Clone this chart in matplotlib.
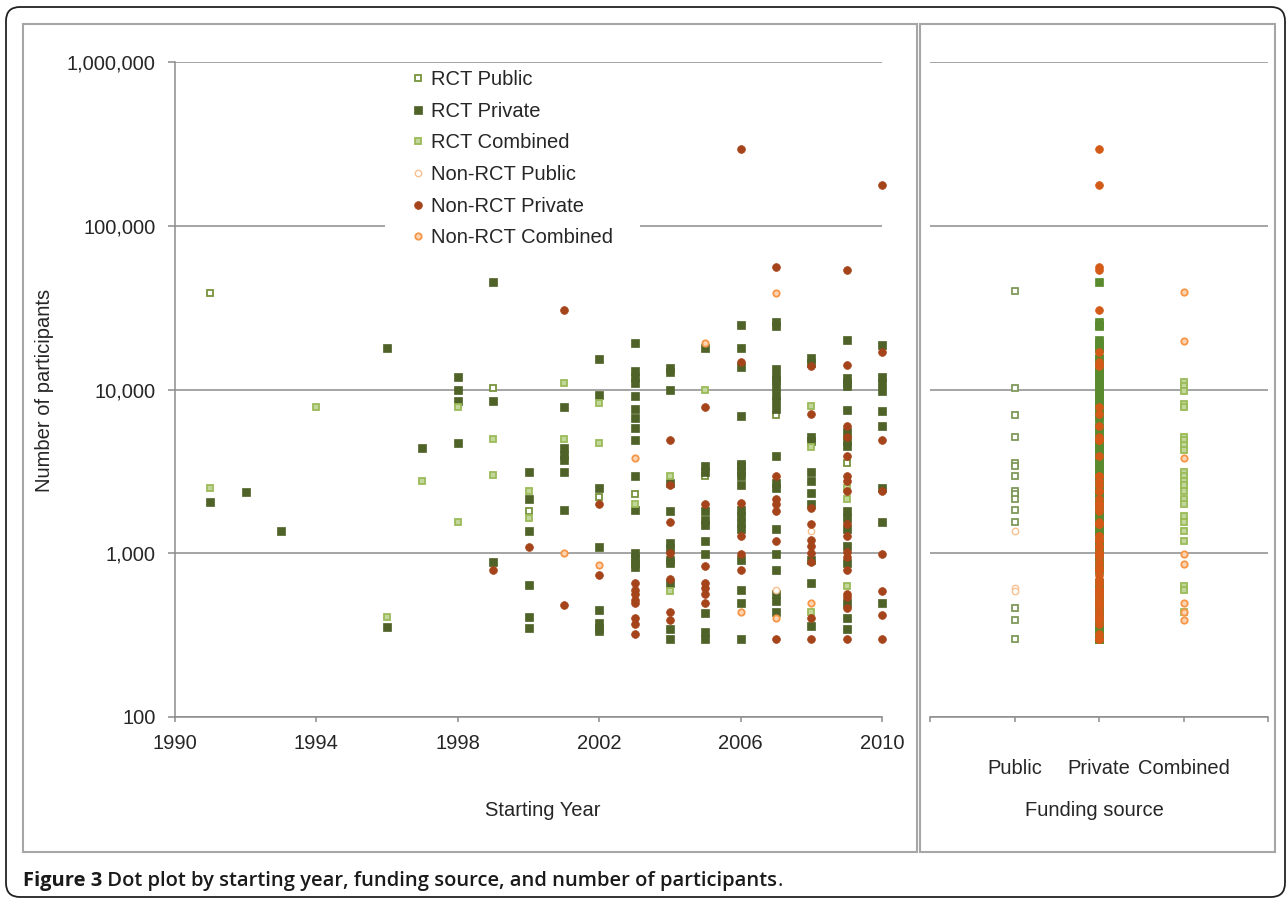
import numpy as np
import matplotlib
matplotlib.use("Agg")
import matplotlib.pyplot as plt
from matplotlib.lines import Line2D
from matplotlib.patches import Rectangle, FancyBboxPatch
from matplotlib.transforms import IdentityTransform
from matplotlib.ticker import NullLocator

# -------------------------------
# DATA
# -------------------------------
# left panel: starting year -> number of participants
rct_public = {1991: [38800], 1999: [10200], 2000: [1800], 2002: [2200], 2003: [2300],
              2005: [2950], 2007: [7000], 2009: [3550]}

rct_private = {
    1991: [2050],
    1992: [2380],
    1993: [1370],
    1996: [17900, 356],
    1997: [4400],
    1998: [11900, 10000, 8500, 4700],
    1999: [45500, 8500, 880],
    2000: [3150, 2150, 1370, 640, 410, 350],
    2001: [7800, 4400, 4000, 3700, 3150, 1850],
    2002: [15400, 9200, 2500, 1090, 450, 375, 350, 335],
    2003: [19200, 12900, 12000, 11000, 9100, 7550, 6700, 5800, 4950, 2950, 1830,
           1000, 930, 870, 820],
    2004: [13500, 12800, 10000, 2700, 1820, 1150, 1070, 910, 870, 660, 345, 300],
    2005: [18000, 3400, 3150, 1800, 1600, 1480, 1190, 990, 430, 330, 300],
    2006: [24600, 17800, 13800, 6900, 3520, 3400, 3150, 2950, 2600, 1850, 1680, 1540,
           1400, 910, 600, 500, 300],
    2007: [26000, 24300, 13400, 12000, 11500, 10400, 9300, 8500, 7600, 3900, 2700,
           2500, 1400, 990, 790, 560, 510, 440],
    2008: [15600, 14500, 5150, 4850, 3150, 2750, 2320, 2000, 910, 660, 360],
    2009: [20100, 11700, 11000, 10500, 7500, 5500, 4850, 4500, 1800, 1650, 1400, 1100,
           870, 500, 400, 345],
    2010: [18700, 12000, 11000, 9800, 7400, 5950, 2500, 1560, 500],
}

rct_combined = {1991: [2510], 1994: [7790], 1996: [406], 1997: [2760], 1998: [7800, 1560],
                1999: [5000, 3000], 2000: [2400, 1650], 2001: [10900, 5000],
                2002: [8300, 4700], 2003: [2000], 2004: [2950, 590], 2005: [10000],
                2008: [7900, 4470, 440], 2009: [2500, 2150, 630]}

nonrct_public = {2007: [600], 2008: [1360]}

nonrct_private = {
    1999: [790],
    2000: [1090],
    2001: [30700, 480],
    2002: [2000, 740],
    2003: [660, 600, 560, 520, 500, 400, 370, 320],
    2004: [4950, 2600, 1560, 1000, 700, 440, 390],
    2005: [7800, 2000, 840, 660, 610, 560, 500],
    2006: [295000, 14700, 2030, 1270, 990, 790],
    2007: [56000, 2950, 2150, 2000, 1800, 1180, 300],
    2008: [14000, 7100, 1900, 1500, 1210, 1100, 1000, 880, 400, 300],
    2009: [54000, 14200, 5950, 5100, 3900, 2950, 2750, 2400, 1500, 1270, 1020, 950,
           790, 560, 540, 460, 300],
    2010: [178000, 17000, 4950, 2400, 990, 590, 420, 300],
}

nonrct_combined = {2001: [1000], 2002: [850], 2003: [3800], 2005: [19200], 2006: [440],
                   2007: [39000, 400], 2008: [500]}

# right panel: funding source columns
funding_cats = ["Public", "Private", "Combined"]
public_rct = [40000, 10200, 7000, 5100, 3550, 3400, 2950, 2400, 2300, 2150, 1830, 1560,
              465, 390, 300]
public_nonrct = [1370, 610, 590]
combined_rct = [11100, 10500, 9800, 8100, 7800, 5150, 4950, 4600, 4300, 3150, 2950, 2750,
                2600, 2400, 2150, 2000, 1680, 1560, 1370, 1190, 630, 600, 440]
combined_nonrct = [39500, 19800, 3800, 990, 860, 500, 440, 390]

year_ticks = [1990, 1994, 1998, 2002, 2006, 2010]
y_ticks = [100, 1000, 10000, 100000, 1000000]


def flatten(d):
    xs, ys = [], []
    for yr, vals in d.items():
        xs += [yr] * len(vals)
        ys += vals
    return xs, ys


# -------------------------------
# STYLES
# -------------------------------
W, H = 1287, 899
FONT = "Liberation Sans"
TXT = "#262626"
GRID = "#8c8c8c"

styles = {
    "RCT Public": dict(marker="s", ms=4.4, mew=1.3, mfc="white", mec="#77933c"),
    "RCT Private": dict(marker="s", ms=5.3, mew=0.5, mfc="#4f6228", mec="#4f6228"),
    "RCT Combined": dict(marker="s", ms=4.4, mew=1.3, mfc="#c3d69b", mec="#9bbb59"),
    "Non-RCT Public": dict(marker="o", ms=4.6, mew=1.0, mfc="white", mec="#fac090"),
    "Non-RCT Private": dict(marker="o", ms=5.6, mew=0.5, mfc="#a5441a", mec="#a5441a"),
    "Non-RCT Combined": dict(marker="o", ms=4.6, mew=1.3, mfc="#fcd5b4", mec="#f79646"),
}
series = [("RCT Public", rct_public), ("RCT Private", rct_private),
          ("RCT Combined", rct_combined), ("Non-RCT Public", nonrct_public),
          ("Non-RCT Private", nonrct_private), ("Non-RCT Combined", nonrct_combined)]

plt.rcParams["font.family"] = [FONT, "DejaVu Sans"]

fig = plt.figure(figsize=(W / 100, H / 100), dpi=100)
fig.patch.set_facecolor("white")


def px(x0, y0, x1, y1):
    # pixel box (top-left origin) -> figure fraction rect
    return [x0 / W, 1 - y1 / H, (x1 - x0) / W, (y1 - y0) / H]


# outer rounded border and the two panel frames
fig.add_artist(FancyBboxPatch((6, H - 897), 1279, 890,
                              boxstyle="round,pad=0,rounding_size=14",
                              fill=False, ec="#222222", lw=1.3,
                              transform=IdentityTransform()))
for x0, x1 in [(23, 917), (920, 1275)]:
    fig.add_artist(Rectangle((x0, H - 852), x1 - x0, 852 - 24, fill=False,
                             ec="#a6a6a6", lw=1.5, transform=IdentityTransform()))

ax1 = fig.add_axes(px(175, 62, 882, 717))
ax2 = fig.add_axes(px(930, 62, 1268, 717))

for ax in (ax1, ax2):
    ax.set_yscale("log")
    ax.set_ylim(100, 1000000)
    ax.yaxis.set_minor_locator(NullLocator())
    ax.set_yticks(y_ticks)
    ax.set_axisbelow(True)
    ax.grid(axis="y", color=GRID, lw=1.1)
    ax.grid(axis="x", visible=False)
    for s in ["top", "right"]:
        ax.spines[s].set_visible(False)
    ax.spines["bottom"].set_color(GRID)
    ax.spines["bottom"].set_linewidth(1.1)
    ax.tick_params(axis="x", direction="out", length=3.6, width=1.1, color=GRID,
                   labelsize=14.5, labelcolor=TXT)
    ax.patch.set_alpha(0)

# -------------------------------
# LEFT PANEL: BY STARTING YEAR
# -------------------------------
ax1.set_xlim(1990, 2010)
ax1.set_xticks(year_ticks)
ax1.tick_params(axis="x", pad=8.5)
ax1.spines["left"].set_color(GRID)
ax1.spines["left"].set_linewidth(1.1)
ax1.set_yticklabels([f"{v:,}" for v in y_ticks])
ax1.tick_params(axis="y", direction="out", length=5, width=1.1, color=GRID,
                labelsize=14.5, labelcolor=TXT, pad=9)

for name, d in series:
    xs, ys = flatten(d)
    ax1.plot(xs, ys, ls="none", zorder=3, clip_on=False, **styles[name])

# white box behind the legend hides the grid line
ax1.add_patch(Rectangle((385, H - 252), 255, 188, fc="white", ec="none",
                        transform=IdentityTransform(), zorder=1, clip_on=False))
handles = [Line2D([], [], ls="none", **styles[n]) for n, _ in series]
leg = ax1.legend(handles, [n for n, _ in series], loc="upper left",
                 bbox_to_anchor=(406 / W, 1 - 66 / H), bbox_transform=fig.transFigure,
                 frameon=False, fontsize=14.5, handlelength=0.8, handletextpad=0.25,
                 labelspacing=0.63, borderpad=0.2, borderaxespad=0, markerscale=1.0)
for t in leg.get_texts():
    t.set_color(TXT)
leg.set_zorder(5)

# -------------------------------
# RIGHT PANEL: BY FUNDING SOURCE
# -------------------------------
ax2.set_xlim(0, len(funding_cats) + 1)
ax2.set_xticks(range(len(funding_cats) + 2))
ax2.set_xticklabels([""] + funding_cats + [""])
ax2.tick_params(axis="x", pad=27)
ax2.spines["left"].set_visible(False)
ax2.tick_params(axis="y", length=0, labelleft=False)

pos = {c: i + 1 for i, c in enumerate(funding_cats)}
priv_rct = flatten(rct_private)[1]
priv_nonrct = flatten(nonrct_private)[1]
right_style = dict(styles)
right_style["RCT Public"] = dict(styles["RCT Public"], mec="#7f9a5c")
right_style["RCT Private"] = dict(styles["RCT Private"], mfc="#5a8a2e", mec="#5a8a2e")
right_style["Non-RCT Private"] = dict(styles["Non-RCT Private"], mfc="#d35a17",
                                      mec="#d35a17")

right_cols = [("Public", public_rct, "RCT Public"),
              ("Private", priv_rct, "RCT Private"),
              ("Combined", combined_rct, "RCT Combined"),
              ("Public", public_nonrct, "Non-RCT Public"),
              ("Private", priv_nonrct, "Non-RCT Private"),
              ("Combined", combined_nonrct, "Non-RCT Combined")]
for cat, vals, name in right_cols:
    ax2.plot([pos[cat]] * len(vals), vals, ls="none", zorder=3, **right_style[name])

# -------------------------------
# AXIS TITLES AND CAPTION
# -------------------------------
fig.text(45 / W, 1 - 390 / H, "Number of participants", rotation=90, ha="center",
         va="center", fontsize=14.5, color=TXT)
fig.text(543 / W, 1 - 810 / H, "Starting Year", ha="center", va="center",
         fontsize=14.5, color=TXT)
fig.text(1094 / W, 1 - 810 / H, "Funding source", ha="center", va="center",
         fontsize=14.5, color=TXT)

cap = fig.text(23 / W, 1 - 886 / H, "Figure 3", ha="left", va="baseline",
               fontsize=14.5, fontweight="bold", family="Open Sans", color="#1a1a1a")
rest = ax1.annotate(" Dot plot by starting year, funding source, and number of participants",
                    xy=(1, 0), xycoords=cap, xytext=(0, 0), textcoords="offset points",
                    ha="left", va="bottom", fontsize=14.5, fontweight="semibold",
                    family="Open Sans", color="#1a1a1a", annotation_clip=False)
ax1.annotate(".", xy=(1, 0), xycoords=rest, xytext=(0, 0), textcoords="offset points",
             ha="left", va="bottom", fontsize=14.5, family="Open Sans", color="#1a1a1a",
             annotation_clip=False)

fig.savefig("out.png", dpi=100)
